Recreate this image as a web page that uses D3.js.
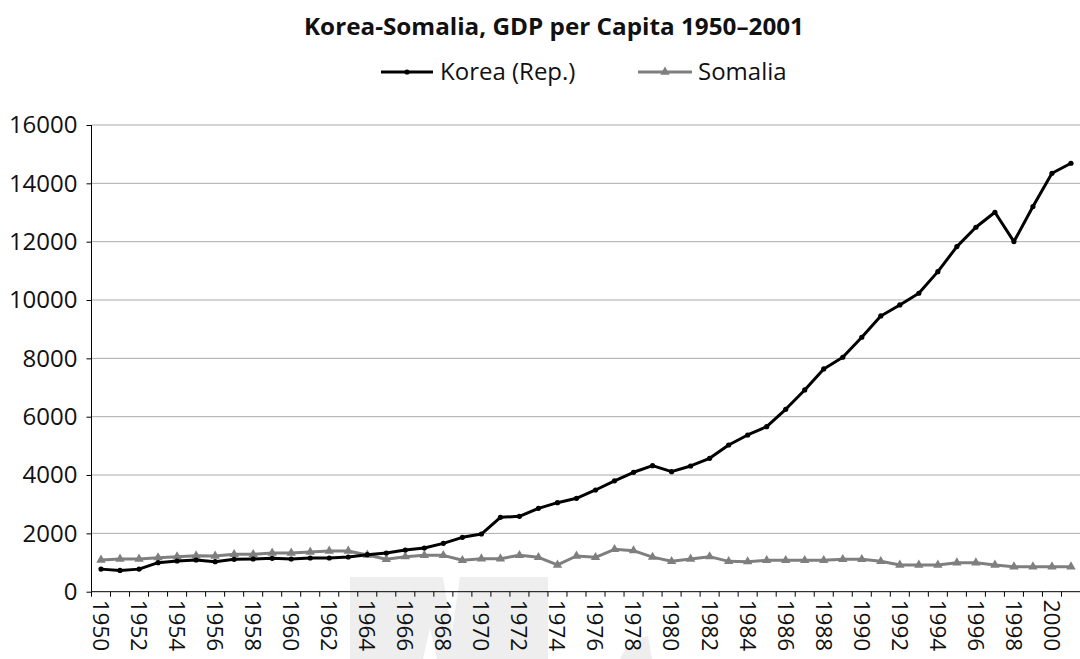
<!DOCTYPE html>
<html><head><meta charset="utf-8">
<script src="https://cdn.jsdelivr.net/npm/d3@7"></script>
<style>body{margin:0;background:#fff}svg{display:block;font-family:"Open Sans",sans-serif}</style>
</head><body><svg id="c" width="1080" height="659"></svg>
<script>
const years = d3.range(1950, 2002);
const korea = [774,730,774,995,1052,1087,1030,1110,1121,1144,1121,1155,1155,1190,1270,1327,1430,1498,1658,1864,1978,2550,2584,2858,3052,3201,3487,3800,4094,4321,4115,4310,4574,5030,5373,5658,6254,6916,7636,8037,8723,9453,9830,10231,10973,11831,12494,13008,12003,13203,14346,14689];
const somalia = [1087,1121,1121,1167,1201,1235,1224,1281,1281,1327,1327,1361,1395,1395,1258,1110,1201,1247,1247,1076,1132,1132,1247,1178,916,1224,1178,1452,1407,1185,1041,1121,1201,1041,1030,1076,1076,1076,1076,1110,1110,1041,916,916,916,995,995,916,858,858,858,858];
const yTicks = [0,2000,4000,6000,8000,10000,12000,14000,16000];
const xLabels = years.filter(y => y % 2 === 0);
const seriesNames = ["Korea (Rep.)", "Somalia"];
const title = "Korea-Somalia, GDP per Capita 1950\u20132001";

const svg = d3.select("#c");
const L = 91.5, R = 1080.5, T = 125, B = 591.7;
const x = d3.scaleBand().domain(years).range([L, R]);
const y = d3.scaleLinear().domain([0, 16000]).range([B, T]);

// watermark (faint)
const wm = svg.append("g").attr("fill", "#eeeeee");
wm.append("path").attr("d", "M350,577 L443,577 L452,632 L460,577 L548,577 L548,659 L437,659 L430,628 L423,659 L350,659 Z");
wm.append("path").attr("d", "M620,659 Q628,640 648,636 L652,659 Z");

// gridlines
svg.append("g").selectAll("line").data(yTicks.filter(d => d > 0)).join("line")
  .attr("x1", L).attr("x2", R).attr("y1", d => y(d)).attr("y2", d => y(d))
  .attr("stroke", "#ababab").attr("stroke-width", 1);

// y axis
const ya = svg.append("g").attr("transform", `translate(${L},0)`)
  .call(d3.axisLeft(y).tickValues(yTicks).tickSize(5).tickPadding(9).tickFormat(d3.format("d")));
ya.select(".domain").attr("stroke", "#000").attr("d", `M0,${T}V${B}`);
ya.selectAll(".tick line").attr("stroke", "#000");
ya.selectAll("text").attr("font-size", 24).attr("fill", "#111").attr("font-family", "Open Sans");

// x axis line + ticks at band boundaries
svg.append("line").attr("x1", L).attr("x2", R).attr("y1", B).attr("y2", B).attr("stroke", "#000");
svg.append("g").selectAll("line").data(years).join("line")
  .attr("x1", d => x(d)).attr("x2", d => x(d)).attr("y1", B).attr("y2", B + 5).attr("stroke", "#000");
svg.append("g").selectAll("text").data(xLabels).join("text")
  .attr("transform", d => `translate(${x(d) + x.bandwidth()/2},${B + 8}) rotate(90)`)
  .attr("dy", "0.36em").attr("font-size", 22.5).attr("fill", "#111").text(d => d);

// lines
const line = d3.line().x((d, i) => x(years[i]) + x.bandwidth()/2).y(d => y(d));
svg.append("path").datum(somalia).attr("d", line).attr("fill", "none").attr("stroke", "#7f7f7f").attr("stroke-width", 3).attr("stroke-linejoin", "round");
const tri = d3.symbol().type(d3.symbolTriangle).size(38);
svg.append("g").selectAll("path").data(somalia).join("path")
  .attr("d", tri).attr("fill", "#7f7f7f")
  .attr("transform", (d, i) => `translate(${x(years[i]) + x.bandwidth()/2},${y(d)})`);
svg.append("path").datum(korea).attr("d", line).attr("fill", "none").attr("stroke", "#000").attr("stroke-width", 3).attr("stroke-linejoin", "round");
svg.append("g").selectAll("circle").data(korea).join("circle")
  .attr("cx", (d, i) => x(years[i]) + x.bandwidth()/2).attr("cy", d => y(d)).attr("r", 2.6).attr("fill", "#000");

// title
svg.append("text").attr("x", 554).attr("y", 35).attr("text-anchor", "middle")
  .attr("font-size", 24).attr("font-weight", "bold").attr("fill", "#111")
  .attr("textLength", 500).attr("lengthAdjust", "spacingAndGlyphs").text(title);

// legend
const lg = [{name: seriesNames[0], color: "#000", x0: 381, x1: 433, tx: 440, m: "c"},
            {name: seriesNames[1], color: "#7f7f7f", x0: 638, x1: 692, tx: 698, m: "t"}];
const lgG = svg.append("g");
lg.forEach(l => {
  lgG.append("line").attr("x1", l.x0).attr("x2", l.x1).attr("y1", 72).attr("y2", 72).attr("stroke", l.color).attr("stroke-width", 3);
  if (l.m === "c") lgG.append("circle").attr("cx", (l.x0 + l.x1)/2).attr("cy", 72).attr("r", 2.6).attr("fill", l.color);
  else lgG.append("path").attr("d", tri).attr("fill", l.color).attr("transform", `translate(${(l.x0 + l.x1)/2},72)`);
  lgG.append("text").attr("x", l.tx).attr("y", 80).attr("font-size", 24).attr("fill", "#111").text(l.name);
});
</script></body></html>
